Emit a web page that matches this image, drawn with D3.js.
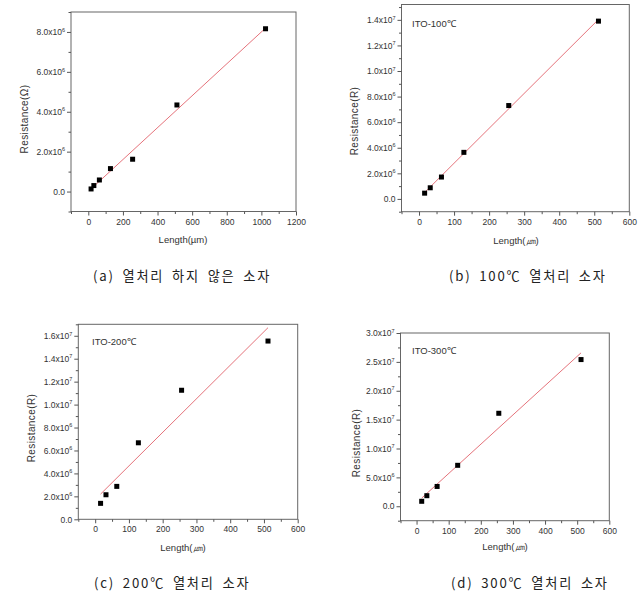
<!DOCTYPE html>
<html><head><meta charset="utf-8">
<script src="https://cdn.jsdelivr.net/npm/d3@7/dist/d3.min.js"></script>
<style>body{margin:0;background:#fff}</style>
</head><body>
<svg id="c" width="643" height="600"></svg>
<script>
// ---- data (length in µm, resistance in ohm) ----
const lengthA = [16, 32, 64, 128, 256, 512, 1024];
const resistA = [0.13e6, 0.30e6, 0.58e6, 1.15e6, 1.62e6, 4.34e6, 8.16e6];
const lengthB = [16, 32, 64, 128, 256, 512];
const resistB = [0.45e6, 0.87e6, 1.71e6, 3.64e6, 7.30e6, 13.9e6];
const lengthC = [16, 32, 64, 128, 256, 512];
const resistC = [1.39e6, 2.14e6, 2.87e6, 6.67e6, 11.25e6, 15.54e6];
const lengthD = [16, 32, 64, 128, 256, 512];
const resistD = [0.86e6, 1.83e6, 3.43e6, 7.09e6, 16.1e6, 25.4e6];

const captions = ["(a) 열처리 하지 않은 소자", "(b) 100℃ 열처리 소자", "(c) 200℃ 열처리 소자", "(d) 300℃ 열처리 소자"];
const insetLabels = [null, "ITO-100℃", "ITO-200℃", "ITO-300℃"];
const yTitles = ["Resistance(Ω)", "Resistance(R)", "Resistance(R)", "Resistance(R)"];
const xTitles = ["Length(µm)", "Length(㎛)", "Length(㎛)", "Length(㎛)"];

const svg = d3.select("#c");
const FONT = "'Liberation Sans', Arial, sans-serif";

const panels = [
  {xs: lengthA, ys: resistA, box:{l:71, r:296, t:12, b:211.5}, xd:[-100,1200], xs1:200, yd:[-1e6,9e6], ys1:2e6,
   ytx:25, yty:119, xtx:183, xty:243, inset:null, cap:{x:93, y:281}},
  {xs: lengthB, ys: resistB, box:{l:401.5, r:629.3, t:4.5, b:211.7}, xd:[-50,600], xs1:100, yd:[-1e6,1.52e7], ys1:2e6,
   ytx:355, yty:121, xtx:516, xty:244, inset:{x:412, y:27}, cap:{x:449, y:281}},
  {xs: lengthC, ys: resistC, box:{l:78.3, r:297.7, t:324.3, b:519.3}, xd:[-50,600], xs1:100, yd:[0,1.7e7], ys1:2e6,
   ytx:32, yty:428, xtx:183, xty:551, inset:{x:92, y:345}, cap:{x:94, y:588}},
  {xs: lengthD, ys: resistD, box:{l:400.5, r:609.3, t:333, b:520.7}, xd:[-50,600], xs1:100, yd:[-2.5e6,3e7], ys1:5e6,
   ytx:357, yty:443, xtx:505, xty:550, inset:{x:412, y:354}, cap:{x:451, y:588}}
];

function ticksOf(dom, step) {
  const out = [];
  const s = Math.ceil(dom[0] / step - 1e-9), e = Math.floor(dom[1] / step + 1e-9);
  for (let i = s; i <= e; i++) out.push(i * step);
  return out;
}

function sciLabel(sel, v) {
  sel.text(null);
  if (Math.abs(v) < 1e-9) { sel.text("0.0"); return; }
  const e = Math.floor(Math.log10(v) + 1e-9);
  const m = v / Math.pow(10, e);
  sel.append("tspan").text(m.toFixed(1) + "x10");
  sel.append("tspan").attr("dy", -3.5).attr("font-size", 5.5).text(e);
}

function linfit(xs, ys) {
  const mx = d3.mean(xs), my = d3.mean(ys);
  let sxy = 0, sxx = 0;
  xs.forEach((x, i) => { sxy += (x - mx) * (ys[i] - my); sxx += (x - mx) * (x - mx); });
  const k = sxy / sxx;
  return x => my + k * (x - mx);
}

panels.forEach((p, idx) => {
  const x = d3.scaleLinear().domain(p.xd).range([p.box.l, p.box.r]);
  const y = d3.scaleLinear().domain(p.yd).range([p.box.b, p.box.t]);
  const g = svg.append("g");

  // frame
  g.append("rect").attr("x", p.box.l).attr("y", p.box.t)
    .attr("width", p.box.r - p.box.l).attr("height", p.box.b - p.box.t)
    .attr("fill", "none").attr("stroke", "#666").attr("stroke-width", 1);

  const xMaj = ticksOf(p.xd, p.xs1).filter(v => v >= 0);
  const xMin = ticksOf(p.xd, p.xs1 / 2).filter(v => !xMaj.includes(v));
  const yMaj = ticksOf(p.yd, p.ys1).filter(v => v >= 0);
  const yMin = ticksOf(p.yd, p.ys1 / 2).filter(v => !yMaj.includes(v));

  // minor ticks
  g.append("g").attr("transform", `translate(0,${p.box.b})`)
    .call(d3.axisBottom(x).tickValues(xMin).tickSize(2.5).tickFormat(""))
    .call(a => a.select(".domain").remove());
  g.append("g").attr("transform", `translate(${p.box.l},0)`)
    .call(d3.axisLeft(y).tickValues(yMin).tickSize(2.5).tickFormat(""))
    .call(a => a.select(".domain").remove());

  // major ticks
  const gx = g.append("g").attr("transform", `translate(0,${p.box.b})`)
    .call(d3.axisBottom(x).tickValues(xMaj).tickSize(4).tickPadding(3).tickFormat(d3.format("d")));
  gx.select(".domain").remove();
  const gy = g.append("g").attr("transform", `translate(${p.box.l},0)`)
    .call(d3.axisLeft(y).tickValues(yMaj).tickSize(4).tickPadding(2));
  gy.select(".domain").remove();
  gy.selectAll(".tick text").each(function(d) { sciLabel(d3.select(this), d); });

  g.selectAll(".tick line").attr("stroke", "#555");
  g.selectAll(".tick text").attr("font-family", FONT).attr("font-size", 8.5).attr("fill", "#333");

  // fit line
  const f = linfit(p.xs, p.ys);
  const x0 = d3.min(p.xs), x1 = d3.max(p.xs);
  g.append("line").attr("x1", x(x0)).attr("y1", y(f(x0))).attr("x2", x(x1)).attr("y2", y(f(x1)))
    .attr("stroke", "#e5737b").attr("stroke-width", 1);

  // points
  g.selectAll("rect.pt").data(p.xs.map((v, i) => [v, p.ys[i]])).join("rect")
    .attr("class", "pt")
    .attr("x", d => x(d[0]) - 2.5).attr("y", d => y(d[1]) - 2.5)
    .attr("width", 5).attr("height", 5).attr("fill", "#000");

  // axis titles
  g.append("text").attr("transform", `translate(${p.ytx},${p.yty}) rotate(-90)`)
    .attr("text-anchor", "middle").attr("dominant-baseline", "middle")
    .attr("font-family", FONT).attr("font-size", 10).attr("fill", "#333")
    .attr("letter-spacing", 0.4).text(yTitles[idx]);
  g.append("text").attr("x", p.xtx).attr("y", p.xty)
    .attr("text-anchor", "middle")
    .attr("font-family", FONT).attr("font-size", 9.5).attr("fill", "#333")
    .text(xTitles[idx]);

  if (p.inset) {
    g.append("text").attr("x", p.inset.x).attr("y", p.inset.y)
      .attr("font-family", FONT).attr("font-size", 9.5).attr("fill", "#333")
      .text(insetLabels[idx]);
  }

  svg.append("text").attr("x", p.cap.x).attr("y", p.cap.y)
    .attr("font-family", "'Noto Sans CJK KR', sans-serif").attr("font-size", 13.2).attr("fill", "#222")
    .attr("letter-spacing", 1.8).attr("word-spacing", 3)
    .text(captions[idx]);
});
</script>
</body></html>
